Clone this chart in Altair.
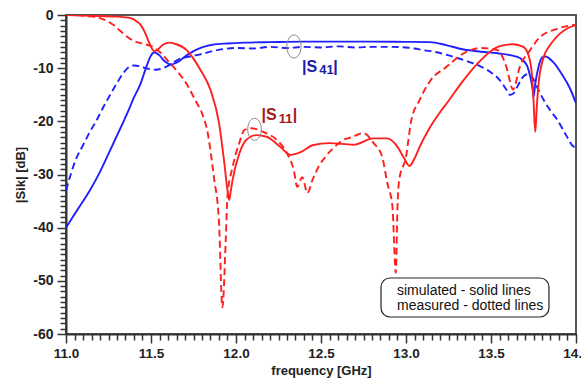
import altair as alt
import pandas as pd

# ---- data ----
sim41_f = [11.0, 11.07, 11.14, 11.2, 11.26, 11.31, 11.36, 11.4, 11.44, 11.47, 11.5, 11.52, 11.55, 11.58, 11.62,
           11.66, 11.7, 11.75, 11.8, 11.86, 11.95, 12.05, 12.2, 12.4, 12.6, 12.8, 13.0, 13.14, 13.24, 13.34,
           13.44, 13.54, 13.62, 13.67, 13.71, 13.73, 13.745, 13.75, 13.76, 13.78, 13.8, 13.82, 13.87, 13.92,
           13.96, 14.0]
sim41_db = [-40, -36.5, -33, -29.5, -25.4, -22, -18.5, -15.5, -12.8, -10, -7.6, -7.0, -7.6, -8.7, -9.3,
            -8.8, -7.8, -6.8, -6.1, -5.6, -5.35, -5.2, -5.1, -5.0, -5.0, -5.0, -5.05, -5.1, -5.7, -6.5,
            -6.9, -7.2, -7.6, -8.1, -9.4, -11.5, -14, -15.4, -13, -9.7, -8.0, -7.8, -9, -11.3,
            -13.5, -16.6]

meas41_f = [11.0, 11.06, 11.1, 11.14, 11.18, 11.22, 11.26, 11.3, 11.34, 11.37, 11.4, 11.44, 11.48, 11.53,
            11.57, 11.62, 11.67, 11.73, 11.79, 11.86, 11.93, 12.0, 12.1, 12.2, 12.3, 12.4, 12.5, 12.6, 12.7,
            12.8, 12.9, 13.0, 13.05, 13.1, 13.18, 13.24, 13.34, 13.44, 13.5, 13.55, 13.59, 13.61, 13.63,
            13.65, 13.68, 13.71, 13.74, 13.77, 13.81, 13.85, 13.89, 13.94, 13.98, 14.0]
meas41_db = [-33, -27, -24.5, -22, -19.8, -17.3, -15, -12.8, -10.8, -9.8, -9.5, -9.7, -10.1, -10.3,
             -10, -9.2, -8.2, -7.8, -7.4, -6.8, -6.4, -6.2, -6.3, -6.0, -6.2, -6.0, -6.1, -5.9, -6.1,
             -6.0, -6.0, -6.1, -6.3, -6.6, -7.0, -7.5, -8.5, -9.7, -10.8, -12.2, -14, -15, -14.8,
             -13.8, -12, -11.2, -11.6, -13.5, -16, -18, -19.7, -22.5, -24.6, -25]

sim11_f = [11.0, 11.1, 11.2, 11.3, 11.38, 11.42, 11.44, 11.46, 11.48, 11.5, 11.52, 11.54, 11.57, 11.61,
           11.65, 11.71, 11.75, 11.79, 11.85, 11.9, 11.93, 11.95, 11.96, 11.97, 11.98, 12.02, 12.06, 12.12,
           12.18, 12.26, 12.32, 12.38, 12.45, 12.55, 12.69, 12.81, 12.89, 12.95, 12.99, 13.02, 13.05, 13.08,
           13.14, 13.2, 13.24, 13.34, 13.44, 13.54, 13.63, 13.69, 13.72, 13.74, 13.75, 13.76, 13.77, 13.78,
           13.81, 13.84, 13.87, 13.95, 14.0]
sim11_db = [0, -0.1, -0.2, -0.3, -0.6, -1.3, -1.9, -3, -4.5, -6.0, -6.8, -6.5, -5.6, -5.2,
            -5.5, -6.6, -8.2, -10.3, -14.1, -20.3, -27.5, -33, -34.8, -33, -31, -26, -23.5, -22.6,
            -22.9, -24.8, -26.3, -25.8, -24.5, -24.1, -24.4, -23.2, -23.2, -24.8, -27, -28.4, -27, -24.8,
            -21.2, -18.3, -16.6, -12.2, -8.5, -6.0, -5.5, -6.0, -7.5, -11, -16, -22, -17, -12.8,
            -7.9, -6, -4.7, -2.5, -1.9]

meas11_f = [11.0, 11.05, 11.12, 11.2, 11.28, 11.32, 11.36, 11.4, 11.44, 11.51, 11.56, 11.61, 11.66, 11.71,
            11.76, 11.8, 11.83, 11.87, 11.9, 11.92, 11.94, 11.95, 11.98, 12.02, 12.05, 12.09, 12.16, 12.24,
            12.3, 12.34, 12.36, 12.39, 12.42, 12.45, 12.49, 12.53, 12.58, 12.63, 12.68, 12.75, 12.81, 12.86,
            12.89, 12.92, 12.94, 12.95, 12.96, 13.0, 13.03, 13.08, 13.14, 13.24, 13.34, 13.44, 13.54, 13.59,
            13.63, 13.67, 13.73, 13.79, 13.87, 13.98, 14.0]
meas11_db = [0, 0, -0.2, -0.6, -1.9, -3, -4.1, -4.9, -5.3, -6.0, -7.2, -9, -10.8, -13,
             -16, -18.5, -21.6, -30.5, -39, -55, -42, -34, -28.6, -24, -21.6, -21.3, -22, -23.5,
             -26, -29.2, -32.3, -30.5, -33.5, -31, -28.3, -26.5, -24.8, -23.5, -23, -22.2, -24.1, -26.7,
             -31.6, -36, -48.5, -36, -31, -26.7, -20, -16, -12.5, -9.7, -7.2, -6.2, -6.6, -9.7,
             -14, -9.7, -6.6, -4.1, -2.8, -1.9, -1.8]

x_major = [11.0, 11.5, 12.0, 12.5, 13.0, 13.5, 14.0]
y_major = [0, -10, -20, -30, -40, -50, -60]

legend_lines = ["simulated - solid lines", "measured - dotted lines"]

# ---- chart ----
FONT = "Liberation Sans"
xs = alt.Scale(domain=[11, 14], nice=False, zero=False)
ys = alt.Scale(domain=[-60, 0], nice=False, zero=False)

x_vals = [round(11 + 0.05 * i, 2) for i in range(61)]
y_vals = list(range(-60, 1))
is_major_x = "abs(datum.value*2 - round(datum.value*2)) < 0.001"
is_major_y = "datum.value % 10 == 0"

xaxis = alt.Axis(values=x_vals, labelExpr=f"{is_major_x} ? format(datum.value, '.1f') : ''",
                 tickSize={"condition": {"test": is_major_x, "value": 9}, "value": 6},
                 labelOverlap=False, labelFlush=False, grid=False,
                 labelFont=FONT, labelFontSize=13.5, labelFontWeight="bold", labelColor="#222",
                 labelPadding=3, titleFont=FONT, titleFontSize=13, titleFontWeight="bold",
                 titleColor="#222", titlePadding=5, domainColor="#333", domainWidth=2,
                 tickColor="#333", tickWidth=1.5)
yaxis = alt.Axis(values=y_vals, labelExpr=f"{is_major_y} ? '' + datum.value : ''",
                 tickSize={"condition": {"test": is_major_y, "value": 9}, "value": 6},
                 labelOverlap=False, labelFlush=False, grid=False,
                 labelFont=FONT, labelFontSize=14, labelFontWeight="bold", labelColor="#222",
                 labelPadding=4, titleFont=FONT, titleFontSize=13, titleFontWeight="bold",
                 titleColor="#222", titlePadding=5, domainColor="#333", domainWidth=2,
                 tickColor="#333", tickWidth=1.5)

X = alt.X("freq:Q", scale=xs, axis=xaxis, title="frequency [GHz]")
Y = alt.Y("db:Q", scale=ys, axis=yaxis, title="|Sik| [dB]")

def line(fs, dbs, color, dash=None):
    df = pd.DataFrame({"freq": fs, "db": dbs})
    kw = dict(color=color, strokeWidth=1.9, interpolate="monotone", clip=True)
    if dash:
        kw["strokeDash"] = dash
    return alt.Chart(df).mark_line(**kw).encode(x=X, y=Y)

l1 = line(meas41_f, meas41_db, "#1f1fff", [7, 4])
l2 = line(sim41_f, sim41_db, "#1f1fff")
l3 = line(meas11_f, meas11_db, "#ff1f1f", [7, 4])
l4 = line(sim11_f, sim11_db, "#ff1f1f")

# ellipse markers around the labelled curves
ell_df = pd.DataFrame({"freq": [12.341, 12.109], "db": [-5.92, -21.5], "sz": [529, 484]})
ellipses = alt.Chart(ell_df).mark_point(
    shape="M-0.62,0A0.62,1 0 1,1 0.62,0A0.62,1 0 1,1 -0.62,0Z",
    filled=False, stroke="#8a8a8a", strokeWidth=1, opacity=1
).encode(x=X, y=Y, size=alt.Size("sz:Q", scale=None, legend=None))

# curve labels |S41|, |S11|
def label(parts, color):
    rows = []
    for txt, f, d, fs in parts:
        rows.append({"freq": f, "db": d, "txt": txt, "fs": fs})
    df = pd.DataFrame(rows)
    return alt.Chart(df).mark_text(align="left", baseline="alphabetic", font=FONT,
                                   fontWeight="bold", color=color).encode(
        x=X, y=Y, text="txt:N", size=alt.Size("fs:Q", scale=None, legend=None))

s41 = label([("|S", 12.388, -10.72, 16), ("41", 12.49, -11.19, 13), ("|", 12.572, -10.72, 16)], "#1c1ca6")
s11 = label([("|S", 12.15, -19.75, 16), ("11", 12.252, -20.4, 13), ("|", 12.334, -19.75, 16)], "#a51818")

# legend box
box_df = pd.DataFrame({"freq": [12.853], "f2": [13.841], "db": [-49.47], "d2": [-56.8]})
box = alt.Chart(box_df).mark_rect(cornerRadius=9, fill="white", stroke="#222", strokeWidth=1.2).encode(
    x=X, x2="f2:Q", y=Y, y2="d2:Q")
leg_df = pd.DataFrame({"freq": [12.947, 12.947], "db": [-52.6, -55.4], "txt": legend_lines})
leg_txt = alt.Chart(leg_df).mark_text(align="left", baseline="alphabetic", font=FONT, fontSize=14,
                                      color="#111").encode(x=X, y=Y, text="txt:N")

chart = alt.layer(l1, l2, l3, l4, ellipses, s41, s11, box, leg_txt).properties(
    width=510, height=319,
    autosize=alt.AutoSizeParams(type="none"),
    padding={"left": 66, "top": 15, "right": 5, "bottom": 45},
    background="white",
).configure_view(stroke="#555", strokeWidth=2)

chart.save("out.html", embed_options={"renderer": "svg", "actions": False})
